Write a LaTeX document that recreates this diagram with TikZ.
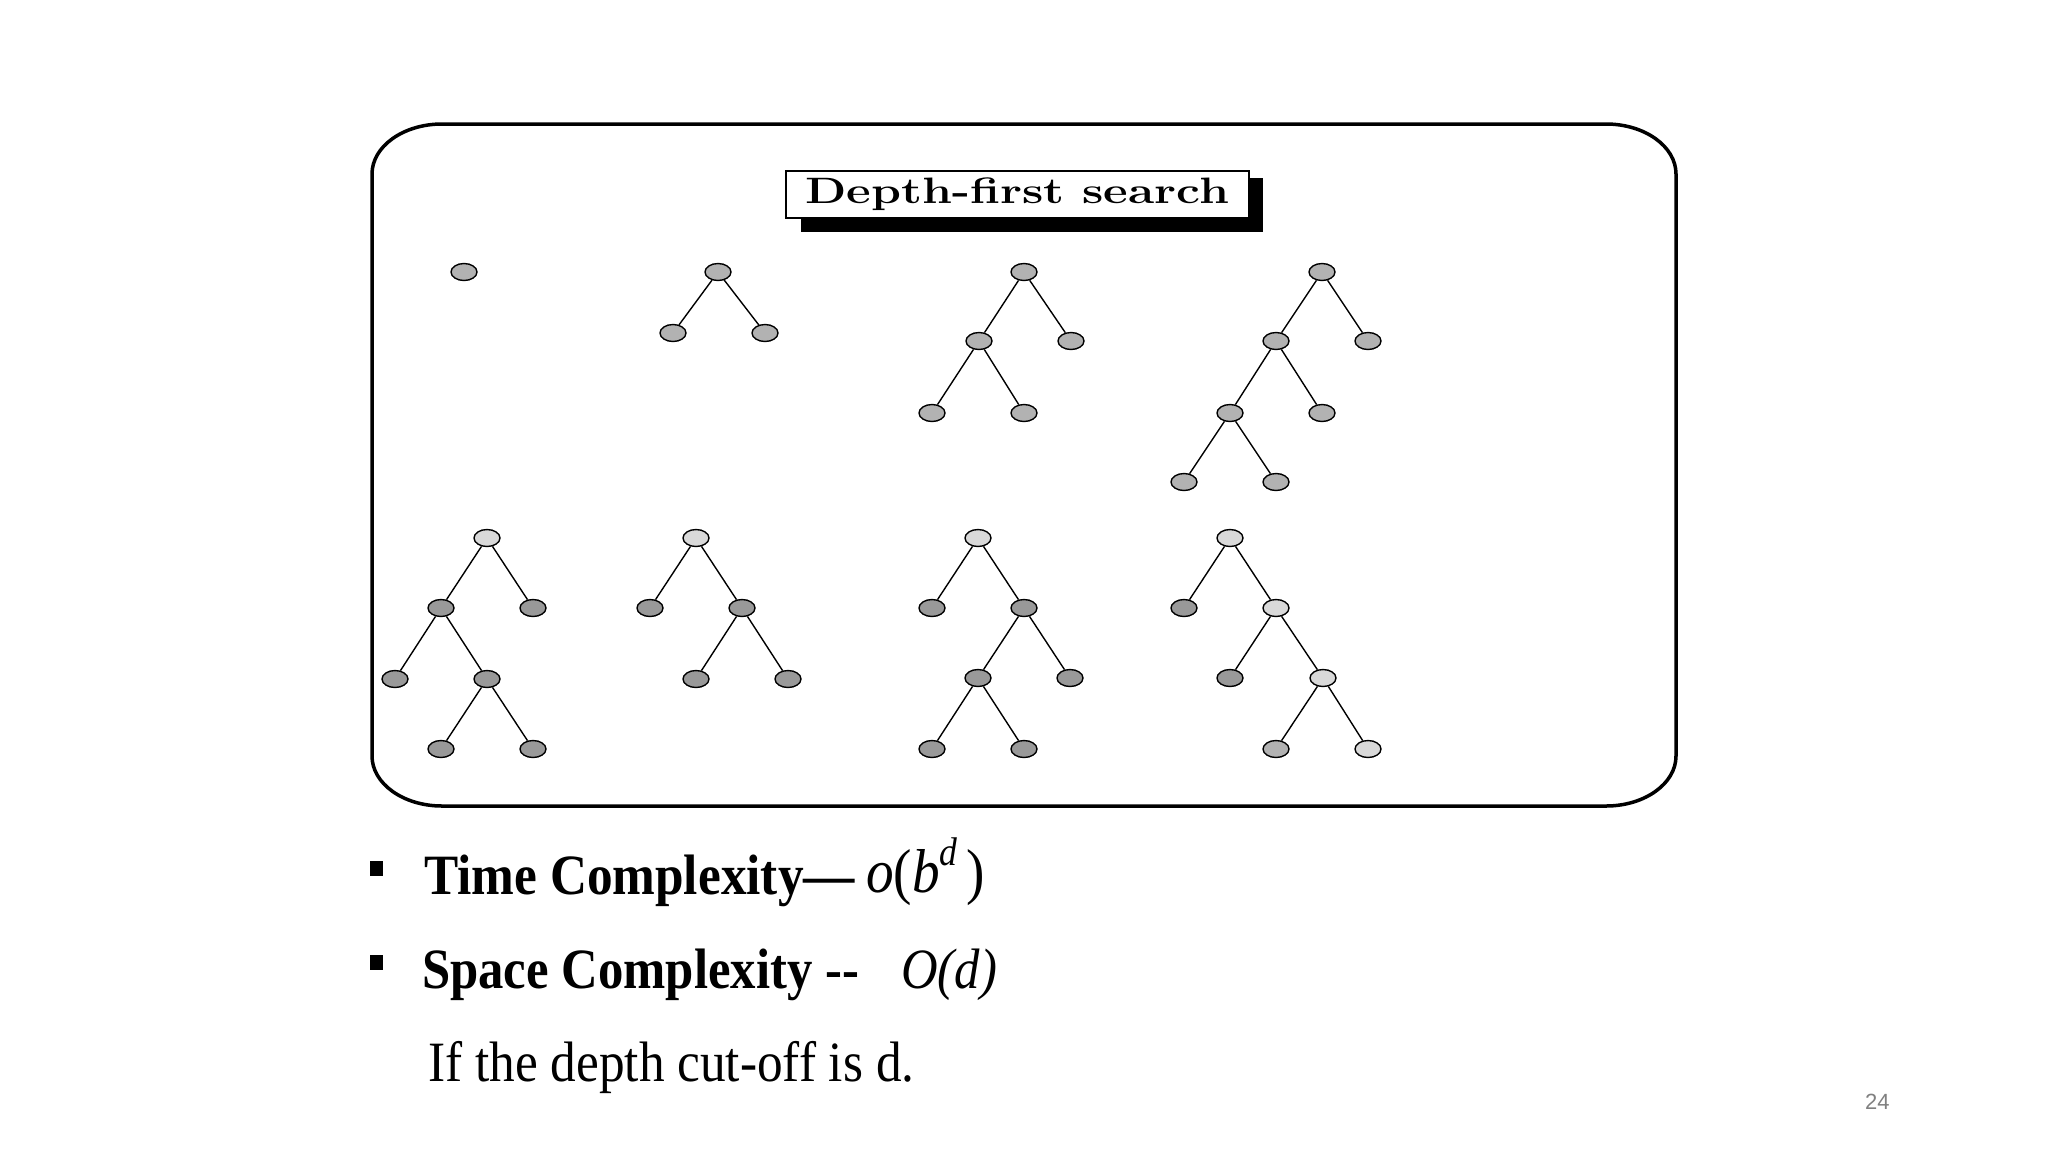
\documentclass[tikz,border=0pt]{standalone}
\usepackage{fontspec}
\newfontfamily\slidefont{Liberation Serif}
\newfontfamily\pagefont{Liberation Sans}
\usetikzlibrary{shapes.geometric}

\begin{document}
\begin{tikzpicture}[x=1pt, y=-1pt,
  nd/.style={ellipse, draw=black, line width=1.4, minimum width=26, minimum height=17, inner sep=0pt},
  mid/.style={nd, fill=gray!60},
  lite/.style={nd, fill=gray!30},
  dark/.style={nd, fill=gray!80},
  edge/.style={black, line width=1.4},
  txt/.style={anchor=base west, inner sep=0pt}]

\useasboundingbox (0,0) rectangle (2048,1152);

% frame with rounded corners
\draw[line width=3.5] (442,124) -- (1606,124)
  arc[start angle=-90, end angle=0, x radius=70, y radius=50] -- (1676,756)
  arc[start angle=0, end angle=90, x radius=70, y radius=50] -- (442,806)
  arc[start angle=90, end angle=180, x radius=70, y radius=50] -- (372,174)
  arc[start angle=180, end angle=270, x radius=70, y radius=50] -- cycle;

% title with shadow
\fill (801,178) rectangle (1263,232);
\node[draw, fill=white, line width=1.5, minimum width=463, minimum height=47, anchor=north west, inner sep=0pt] (title) at (785,170)
  {\scalebox{1.37}[1.05]{\fontsize{35}{40}\selectfont\bfseries Depth-first search}};

% tree a
\node[mid] (a1) at (464,272) {};

% tree b
\node[mid] (b1) at (718,272) {};
\node[mid] (b2) at (673,333) {};
\node[mid] (b3) at (765,333) {};
\draw[edge] (b1) -- (b2);
\draw[edge] (b1) -- (b3);

% tree c
\node[mid] (c1) at (1024,272) {};
\node[mid] (c2) at (979,341) {};
\node[mid] (c3) at (1071,341) {};
\node[mid] (c4) at (932,413) {};
\node[mid] (c5) at (1024,413) {};
\draw[edge] (c1) -- (c2);
\draw[edge] (c1) -- (c3);
\draw[edge] (c2) -- (c4);
\draw[edge] (c2) -- (c5);

% tree d
\node[mid] (d1) at (1322,272) {};
\node[mid] (d2) at (1276,341) {};
\node[mid] (d3) at (1368,341) {};
\node[mid] (d4) at (1230,413) {};
\node[mid] (d5) at (1322,413) {};
\node[mid] (d6) at (1184,482) {};
\node[mid] (d7) at (1276,482) {};
\draw[edge] (d1) -- (d2);
\draw[edge] (d1) -- (d3);
\draw[edge] (d2) -- (d4);
\draw[edge] (d2) -- (d5);
\draw[edge] (d4) -- (d6);
\draw[edge] (d4) -- (d7);

% tree e
\node[lite] (e1) at (487,538) {};
\node[dark] (e2) at (441,608) {};
\node[dark] (e3) at (533,608) {};
\node[dark] (e4) at (395,679) {};
\node[dark] (e5) at (487,679) {};
\node[dark] (e6) at (441,749) {};
\node[dark] (e7) at (533,749) {};
\draw[edge] (e1) -- (e2);
\draw[edge] (e1) -- (e3);
\draw[edge] (e2) -- (e4);
\draw[edge] (e2) -- (e5);
\draw[edge] (e5) -- (e6);
\draw[edge] (e5) -- (e7);

% tree f
\node[lite] (f1) at (696,538) {};
\node[dark] (f2) at (650,608) {};
\node[dark] (f3) at (742,608) {};
\node[dark] (f4) at (696,679) {};
\node[dark] (f5) at (788,679) {};
\draw[edge] (f1) -- (f2);
\draw[edge] (f1) -- (f3);
\draw[edge] (f3) -- (f4);
\draw[edge] (f3) -- (f5);

% tree g
\node[lite] (g1) at (978,538) {};
\node[dark] (g2) at (932,608) {};
\node[dark] (g3) at (1024,608) {};
\node[dark] (g4) at (978,678) {};
\node[dark] (g5) at (1070,678) {};
\node[dark] (g6) at (932,749) {};
\node[dark] (g7) at (1024,749) {};
\draw[edge] (g1) -- (g2);
\draw[edge] (g1) -- (g3);
\draw[edge] (g3) -- (g4);
\draw[edge] (g3) -- (g5);
\draw[edge] (g4) -- (g6);
\draw[edge] (g4) -- (g7);

% tree h
\node[lite] (h1) at (1230,538) {};
\node[dark] (h2) at (1184,608) {};
\node[lite] (h3) at (1276,608) {};
\node[dark] (h4) at (1230,678) {};
\node[lite] (h5) at (1323,678) {};
\node[mid] (h6) at (1276,749) {};
\node[lite] (h7) at (1368,749) {};
\draw[edge] (h1) -- (h2);
\draw[edge] (h1) -- (h3);
\draw[edge] (h3) -- (h4);
\draw[edge] (h3) -- (h5);
\draw[edge] (h5) -- (h6);
\draw[edge] (h5) -- (h7);

% bullets and text
\fill (370,861) rectangle (383,876);
\fill (370,955) rectangle (383,970);
\node[txt] (time) at (424,894)
  {\scalebox{0.9}[1]{\slidefont\fontsize{57}{64}\selectfont\bfseries Time Complexity—}};
\node[txt] (timeval) at (866,892)
  {\scalebox{0.89}[1]{\slidefont\fontsize{62}{70}\selectfont\itshape o\upshape(\itshape b\raisebox{0.42em}{\fontsize{40}{44}\selectfont d}\upshape\,)}};
\node[txt] (space) at (422,988)
  {\scalebox{0.89}[1]{\slidefont\fontsize{57}{64}\selectfont\bfseries Space Complexity -\/-}};
\node[txt] (spaceval) at (901,988)
  {\scalebox{0.89}[1]{\slidefont\fontsize{57}{64}\selectfont\itshape O(d)}};
\node[txt] (cutoff) at (428,1081)
  {\scalebox{0.9}[1]{\slidefont\fontsize{57}{64}\selectfont If the depth cut-off is d.}};

% page number
\node[txt, text=gray] (page) at (1865,1109) {\pagefont\fontsize{22}{26}\selectfont 24};

\end{tikzpicture}
\end{document}
